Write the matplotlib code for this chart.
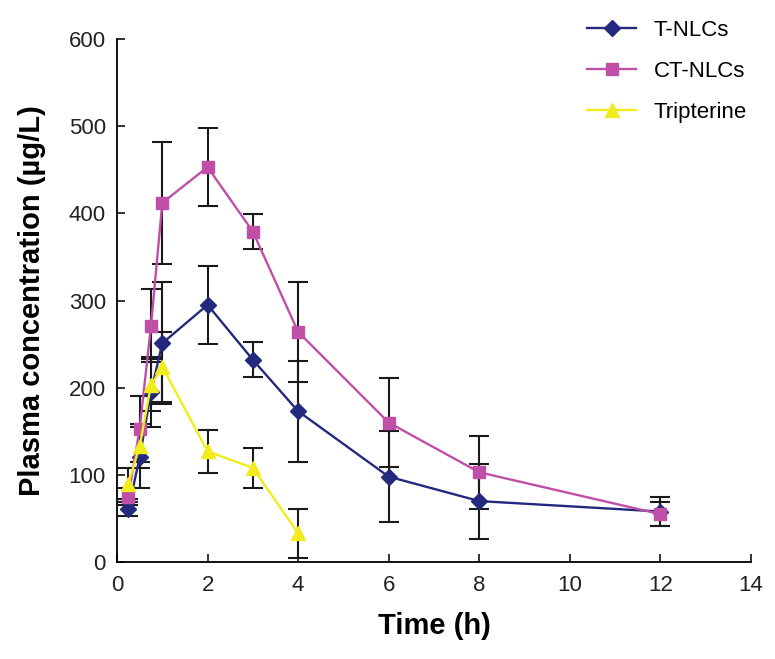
import matplotlib.pyplot as plt
import numpy as np

plt.rcParams['font.family'] = ['Liberation Sans', 'DejaVu Sans']

# data
time_t = [0.25, 0.5, 0.75, 1, 2, 3, 4, 6, 8, 12]
t_nlc = [61, 120, 195, 251, 295, 232, 173, 98, 70, 58]
t_nlc_err = [8, 35, 40, 70, 45, 20, 58, 52, 43, 17]

ct_nlc = [75, 153, 271, 412, 453, 379, 264, 160, 103, 55]
ct_nlc_err = [10, 38, 42, 70, 45, 20, 57, 51, 42, 14]

time_tri = [0.25, 0.5, 0.75, 1, 2, 3, 4]
tri = [90, 133, 203, 224, 127, 108, 33]
tri_err = [18, 25, 30, 40, 25, 23, 28]

fig = plt.figure(figsize=(7.75, 6.59), dpi=100)
ax = fig.add_axes([0.151, 0.147, 0.818, 0.794])

ebkw = dict(ecolor='#1a1a1a', elinewidth=1.5, capsize=7, capthick=1.5)
ax.errorbar(time_t, t_nlc, yerr=t_nlc_err, color='#232a7e', marker='D', markersize=8,
            lw=1.7, label='T-NLCs', **ebkw)
ax.errorbar(time_t, ct_nlc, yerr=ct_nlc_err, color='#c04fa8', marker='s', markersize=8.5,
            lw=1.7, label='CT-NLCs', **ebkw)
ax.errorbar(time_tri, tri, yerr=tri_err, color='#f2ec1c', marker='^', markersize=10,
            lw=1.7, label='Tripterine', **ebkw)

ax.set_xlim(0, 14)
ax.set_ylim(0, 600)
ax.set_xticks(np.arange(0, 15, 2))
ax.set_yticks(np.arange(0, 601, 100))
for s in ['top', 'right']:
    ax.spines[s].set_visible(False)
for s in ['left', 'bottom']:
    ax.spines[s].set_linewidth(1.3)
ax.tick_params(direction='in', length=6, width=1.3, labelsize=16, colors='#222222')
ax.tick_params(axis='x', pad=9)
ax.tick_params(axis='y', pad=8)
ax.set_xlabel('Time (h)', fontsize=21, fontweight='bold', labelpad=12)
ax.set_ylabel('Plasma concentration (µg/L)', fontsize=21, fontweight='bold', labelpad=16)

handles, labels = ax.get_legend_handles_labels()
handles = [h[0] for h in handles]
ax.legend(handles, labels, loc='upper right', bbox_to_anchor=(0.99, 1.0),
          bbox_transform=fig.transFigure, frameon=False, fontsize=16,
          handlelength=2.2, labelspacing=0.9)

fig.savefig('out.png')
